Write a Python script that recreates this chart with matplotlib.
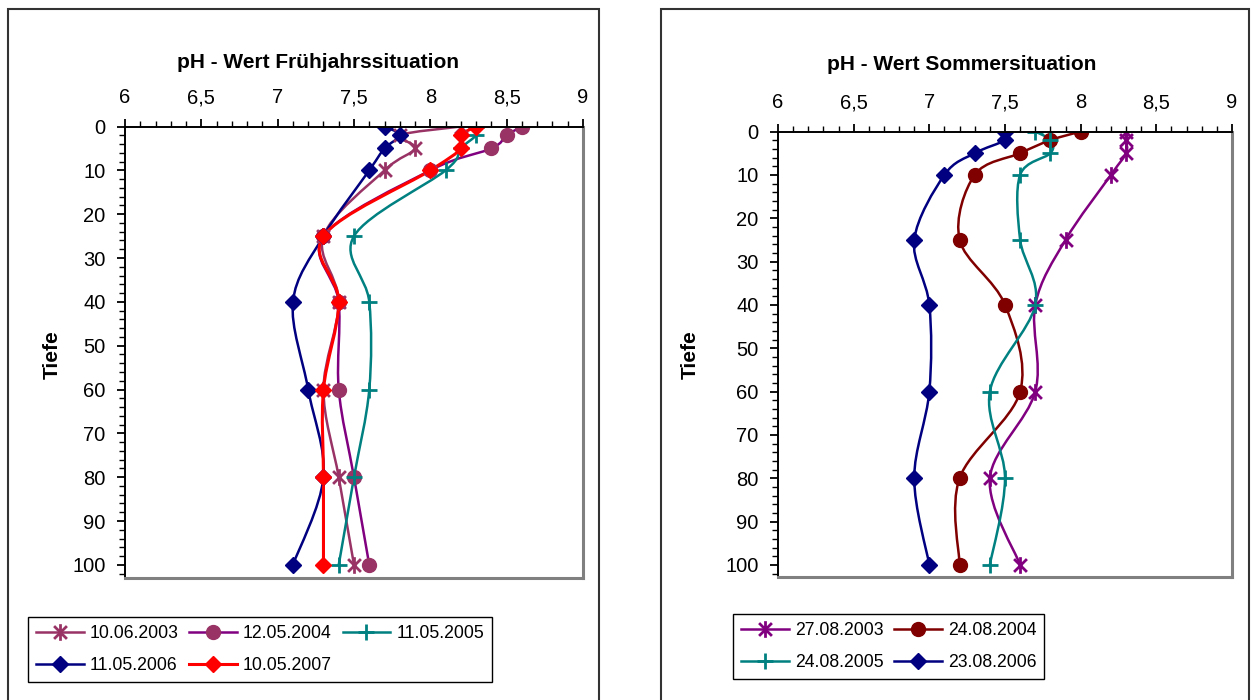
import numpy as np
import matplotlib
matplotlib.use("Agg")
from matplotlib import pyplot as plt
import matplotlib.ticker as ticker
from matplotlib.path import Path
from matplotlib.patches import PathPatch, Rectangle
from matplotlib.lines import Line2D

plt.rcParams['font.family'] = ['Liberation Sans', 'DejaVu Sans']

# Tiefe (m)
depth = [0, 2, 5, 10, 25, 40, 60, 80, 100]

# Frühjahr
fj_labels = ['10.06.2003', '12.05.2004', '11.05.2005', '11.05.2006', '10.05.2007']
fj_2003 = [8.2, 7.8, 7.9, 7.7, 7.3, 7.4, 7.3, 7.4, 7.5]
fj_2004 = [8.6, 8.5, 8.4, 8.0, 7.3, 7.4, 7.4, 7.5, 7.6]
fj_2005 = [8.3, 8.3, 8.2, 8.1, 7.5, 7.6, 7.6, 7.5, 7.4]
fj_2006 = [7.7, 7.8, 7.7, 7.6, 7.3, 7.1, 7.2, 7.3, 7.1]
fj_2007 = [8.3, 8.2, 8.2, 8.0, 7.3, 7.4, 7.3, 7.3, 7.3]

# Sommer
so_labels = ['27.08.2003', '24.08.2004', '24.08.2005', '23.08.2006']
so_2003 = [8.3, 8.3, 8.3, 8.2, 7.9, 7.7, 7.7, 7.4, 7.6]
so_2004 = [8.0, 7.8, 7.6, 7.3, 7.2, 7.5, 7.6, 7.2, 7.2]
so_2005 = [7.7, 7.8, 7.8, 7.6, 7.6, 7.7, 7.4, 7.5, 7.4]
so_2006 = [7.5, 7.5, 7.3, 7.1, 6.9, 7.0, 7.0, 6.9, 7.0]

# Excel-Stern: X mit senkrechtem Strich
star = Path([(-1, -1), (1, 1), (-1, 1), (1, -1), (0, -1.3), (0, 1.3)],
            [Path.MOVETO, Path.LINETO, Path.MOVETO, Path.LINETO, Path.MOVETO, Path.LINETO])


def smooth_path(xs, ys):
    # geglättete Linie wie in Excel (Catmull-Rom als Bezier)
    p = np.column_stack([xs, ys]).astype(float)
    n = len(p)
    verts = [p[0]]
    codes = [Path.MOVETO]
    for i in range(n - 1):
        p0 = p[i - 1] if i > 0 else p[i]
        p3 = p[i + 2] if i + 2 < n else p[i + 1]
        c1 = p[i] + (p[i + 1] - p0) / 6.0
        c2 = p[i + 1] - (p3 - p[i]) / 6.0
        verts += [c1, c2, p[i + 1]]
        codes += [Path.CURVE4] * 3
    return Path(verts, codes)


def draw(ax, vals, lc, mc, marker, ms, lw=1.8, mew=1.0):
    ax.add_patch(PathPatch(smooth_path(vals, depth), fill=False, edgecolor=lc, lw=lw,
                           capstyle='round', joinstyle='round'))
    fill = 'none' if marker in (star, '+') else mc
    ax.plot(vals, depth, ls='none', marker=marker, ms=ms, mfc=fill, mec=mc, mew=mew)
    return Line2D([], [], color=lc, lw=lw, marker=marker, ms=ms, mfc=fill, mec=mc, mew=mew)


def style(ax, ymax):
    ax.set_xlim(6, 9)
    ax.set_ylim(ymax, 0)
    ax.xaxis.tick_top()
    ax.xaxis.set_major_locator(ticker.MultipleLocator(0.5))
    ax.xaxis.set_minor_locator(ticker.MultipleLocator(0.1))
    ax.xaxis.set_major_formatter(ticker.FuncFormatter(lambda v, p: ('%g' % v).replace('.', ',')))
    ax.yaxis.set_major_locator(ticker.FixedLocator([0, 10, 20, 30, 40, 50, 60, 70, 80, 90, 100]))
    ax.yaxis.set_minor_locator(ticker.MultipleLocator(2))
    ax.tick_params(axis='x', which='major', length=6, width=1.3, pad=8, labelsize=14.5)
    ax.tick_params(axis='x', which='minor', length=4, width=1.0)
    ax.tick_params(axis='y', which='major', length=6, width=1.3, pad=8, labelsize=14.5)
    ax.tick_params(axis='y', which='minor', length=4, width=1.0)
    for s in ['top', 'left']:
        ax.spines[s].set_color('black')
        ax.spines[s].set_linewidth(1.4)
    for s in ['right', 'bottom']:
        ax.spines[s].set_color('#808080')
        ax.spines[s].set_linewidth(2.2)


fig = plt.figure(figsize=(12.51, 7), dpi=100)

# Rahmen der beiden Diagramme
for x0, x1 in [(8, 599), (661, 1249)]:
    fig.patches.append(Rectangle((x0 / 1251, -0.05), (x1 - x0) / 1251, 1.05 - 9 / 700,
                                 transform=fig.transFigure, fill=False, ec='#333333', lw=1.5))

ax1 = fig.add_axes([125 / 1251, 1 - 578 / 700, 458 / 1251, (578 - 126.5) / 700])
ax2 = fig.add_axes([778 / 1251, 1 - 577 / 700, 454 / 1251, (577 - 131.5) / 700])

h1 = [
    draw(ax1, fj_2003, '#993366', '#993366', star, 12, mew=2.0),
    draw(ax1, fj_2004, '#800080', '#993366', 'o', 10),
    draw(ax1, fj_2005, '#008080', '#008080', '+', 12, mew=2.0),
    draw(ax1, fj_2006, '#000080', '#000080', 'D', 8.5),
    draw(ax1, fj_2007, '#FF0000', '#FF0000', 'D', 8.5, lw=2.2),
]
h2 = [
    draw(ax2, so_2003, '#800080', '#800080', star, 12, mew=2.0),
    draw(ax2, so_2004, '#800000', '#800000', 'o', 10),
    draw(ax2, so_2005, '#008080', '#008080', '+', 12, mew=2.0),
    draw(ax2, so_2006, '#000080', '#000080', 'D', 8.5),
]

style(ax1, 103)
style(ax2, 102.8)

fig.text(318 / 1251, 1 - 62 / 700, 'pH - Wert Frühjahrssituation', ha='center', va='center',
         fontsize=15, fontweight='bold')
fig.text(962 / 1251, 1 - 64 / 700, 'pH - Wert Sommersituation', ha='center', va='center',
         fontsize=15, fontweight='bold')
fig.text(52 / 1251, 1 - 355 / 700, 'Tiefe', rotation=90, ha='center', va='center',
         fontsize=15, fontweight='bold')
fig.text(690 / 1251, 1 - 355 / 700, 'Tiefe', rotation=90, ha='center', va='center',
         fontsize=15, fontweight='bold')

leg_kw = dict(loc='upper left', fontsize=12.7, frameon=True, fancybox=False, framealpha=1,
              edgecolor='black', borderaxespad=0, handlelength=2.7, handletextpad=0.35,
              columnspacing=0.6, labelspacing=0.85, borderpad=0.45)
# Legende zeilenweise wie in Excel
o1 = [0, 3, 1, 4, 2]
o2 = [0, 2, 1, 3]
l1 = fig.legend([h1[i] for i in o1], [fj_labels[i] for i in o1], ncol=3,
                bbox_to_anchor=(28 / 1251, 1 - 617 / 700), **leg_kw)
l2 = fig.legend([h2[i] for i in o2], [so_labels[i] for i in o2], ncol=2,
                bbox_to_anchor=(733 / 1251, 1 - 614 / 700), **leg_kw)
for l in (l1, l2):
    l.get_frame().set_linewidth(1.0)

fig.savefig('out.png', dpi=100)
